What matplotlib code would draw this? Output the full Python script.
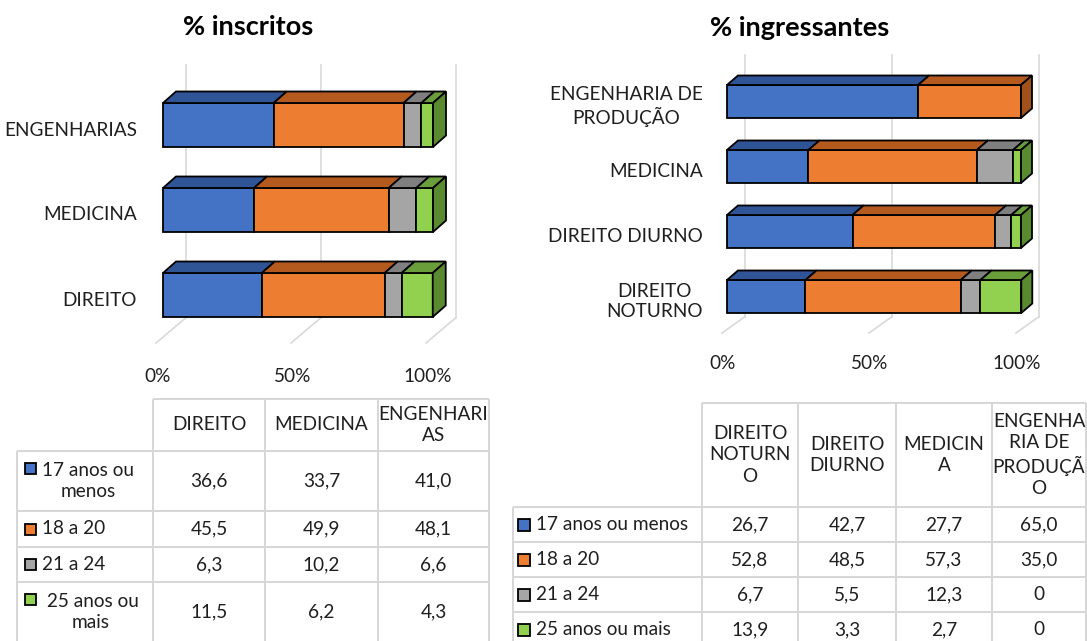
import matplotlib.pyplot as plt
from matplotlib.patches import Polygon, Rectangle
import numpy as np

plt.rcParams['font.family'] = ['Lato', 'DejaVu Sans']

W, H = 1087, 641

# age groups (stack order, left to right)
age_groups = ["17 anos ou menos", "18 a 20", "21 a 24", "25 anos ou mais"]
front_colors = ["#4472C4", "#ED7D31", "#A5A5A5", "#92D050"]
top_colors = ["#2F5597", "#B55A1E", "#7F7F7F", "#6A9E3A"]
side_colors = ["#2A4B85", "#A0511C", "#6E6E6E", "#5A8A30"]

# % inscritos, courses bottom to top
insc_courses = ["DIREITO", "MEDICINA", "ENGENHARIAS"]
insc_17 = [36.6, 33.7, 41.0]
insc_18_20 = [45.5, 49.9, 48.1]
insc_21_24 = [6.3, 10.2, 6.6]
insc_25 = [11.5, 6.2, 4.3]
insc_headers = ["DIREITO", "MEDICINA", "ENGENHARI\nAS"]
insc_row_labels = ["17 anos ou\nmenos", "18 a 20", "21 a 24", " 25 anos ou\nmais"]

# % ingressantes, courses bottom to top
ingr_courses = ["DIREITO\nNOTURNO", "DIREITO DIURNO", "MEDICINA", "ENGENHARIA DE\nPRODUÇÃO"]
ingr_17 = [26.7, 42.7, 27.7, 65.0]
ingr_18_20 = [52.8, 48.5, 57.3, 35.0]
ingr_21_24 = [6.7, 5.5, 12.3, 0]
ingr_25 = [13.9, 3.3, 2.7, 0]
ingr_headers = ["DIREITO\nNOTURN\nO", "DIREITO\nDIURNO", "MEDICIN\nA", "ENGENHA\nRIA DE\nPRODUÇÃ\nO"]
ingr_row_labels = age_groups

FS = 13.7
GRID = "#D9D9D9"
TEXT = "#1F1F1F"


def bar_chart(fig, series, labels, x0, x100, c0, pitch, bar_px, depth,
              grid_off, grid_top, floor_back, floor_front, floor_dx, tick_y, tick_dx,
              label_gap):
    """3D-looking 100% stacked horizontal bars; geometry given in pixels."""
    s = (x100 - x0) / 100.0
    left_px, right_px, top_px, bottom_px = x0 - 160, x100 + 60, 40, tick_y + 20
    ax = fig.add_axes([left_px / W, 1 - bottom_px / H,
                       (right_px - left_px) / W, (bottom_px - top_px) / H])
    ax.set_xlim((left_px - x0) / s, (right_px - x0) / s)
    ax.set_ylim((c0 - bottom_px) / pitch, (c0 - top_px) / pitch)
    ax.axis("off")

    # back wall gridlines and floor lines
    yb = (c0 - floor_back) / pitch
    yt = (c0 - grid_top) / pitch
    yf = (c0 - floor_front) / pitch
    for v in (0, 50, 100):
        gx = v + grid_off / s
        ax.plot([gx, gx], [yb, yt], color=GRID, lw=1.2, zorder=1)
        ax.plot([gx, v + floor_dx / s], [yb, yf], color=GRID, lw=1.2, zorder=1)
        ax.text(v + tick_dx / s, (c0 - tick_y) / pitch, f"{v}%", ha="center",
                va="center", fontsize=FS, color=TEXT)

    n = len(labels)
    y = np.arange(n)
    h = bar_px / pitch
    dx, dy = depth[0] / s, depth[1] / pitch
    left = np.zeros(n)
    last = np.zeros(n, dtype=int)
    for k, vals in enumerate(series):
        vals = np.asarray(vals, dtype=float)
        m = vals > 0
        ax.barh(y[m], vals[m], left=left[m], height=h, color=front_colors[k],
                edgecolor="black", lw=1.3, zorder=3)
        for i in np.where(m)[0]:
            a, b = left[i], left[i] + vals[i]
            top = y[i] + h / 2
            ax.add_patch(Polygon([(a, top), (b, top), (b + dx, top + dy), (a + dx, top + dy)],
                                 closed=True, fc=top_colors[k], ec="black", lw=1.3, zorder=3))
            last[i] = k
        left += vals

    # right side of each bar
    for i in range(n):
        r, lo, hi = left[i], y[i] - h / 2, y[i] + h / 2
        ax.add_patch(Polygon([(r, lo), (r, hi), (r + dx, hi + dy), (r + dx, lo + dy)],
                             closed=True, fc=side_colors[last[i]], ec="black", lw=1.3, zorder=3))

    for i, lab in enumerate(labels):
        ax.text(-label_gap / s, y[i] - 5 / pitch, lab, ha="right", va="center",
                multialignment="center", fontsize=FS, color=TEXT, linespacing=1.25)
    return ax


def fmt(v):
    return "0" if v == 0 else f"{v:.1f}".replace(".", ",")


def draw_table(ax, series, headers, row_labels, col_edges, label_left, row_edges,
               key_x, key_size, text_x):
    kw = dict(color="#D6D6D6", lw=1.4, zorder=1, solid_capstyle="butt")
    ax.plot([col_edges[0], col_edges[-1]], [row_edges[0]] * 2, **kw)
    for r in row_edges[1:]:
        ax.plot([label_left, col_edges[-1]], [r, r], **kw)
    ax.plot([label_left] * 2, [row_edges[1], row_edges[-1]], **kw)
    for c in col_edges:
        ax.plot([c, c], [row_edges[0], row_edges[-1]], **kw)

    centers = [(a + b) / 2 for a, b in zip(col_edges[:-1], col_edges[1:])]
    hy = (row_edges[0] + row_edges[1]) / 2
    for cx, hd in zip(centers, headers):
        ax.text(cx, hy, hd, ha="center", va="center", multialignment="center",
                fontsize=FS, color=TEXT, linespacing=1.3)

    for k, lab in enumerate(row_labels):
        ry = (row_edges[k + 1] + row_edges[k + 2]) / 2
        nl = lab.count("\n") + 1
        first = ry - (nl - 1) / 2 * 26
        ax.add_patch(Rectangle((key_x, first - key_size / 2), key_size, key_size,
                               fc=front_colors[k], ec="black", lw=1.3, zorder=3))
        ax.text(text_x, ry, lab, ha="left", va="center", multialignment="center",
                fontsize=FS, color=TEXT, linespacing=1.3)
        for cx, v in zip(centers, series[k]):
            ax.text(cx, ry, fmt(v), ha="center", va="center", fontsize=FS, color=TEXT)


fig = plt.figure(figsize=(W / 100, H / 100), dpi=100)

bar_chart(fig, [insc_17, insc_18_20, insc_21_24, insc_25], insc_courses,
          x0=163, x100=433, c0=295, pitch=85, bar_px=44, depth=(13, 11.5),
          grid_off=22.5, grid_top=65, floor_back=318, floor_front=343, floor_dx=-7,
          tick_y=376, tick_dx=-5, label_gap=26)

bar_chart(fig, [ingr_17, ingr_18_20, ingr_21_24, ingr_25], ingr_courses,
          x0=727, x100=1021, c0=296.5, pitch=65, bar_px=33, depth=(11, 9.5),
          grid_off=17.5, grid_top=55, floor_back=317, floor_front=333, floor_dx=-5,
          tick_y=363, tick_dx=-4, label_gap=24)

base = fig.add_axes([0, 0, 1, 1])
base.set_xlim(0, W)
base.set_ylim(H, 0)
base.axis("off")

base.text(248, 27, "% inscritos", ha="center", va="center", fontsize=19.5,
          fontweight="bold", color="black")
base.text(800, 28, "% ingressantes", ha="center", va="center", fontsize=19.5,
          fontweight="bold", color="black")

draw_table(base, [insc_17, insc_18_20, insc_21_24, insc_25], insc_headers, insc_row_labels,
           col_edges=[153, 265, 378, 489], label_left=17,
           row_edges=[399, 451, 511, 547, 582, 642], key_x=25, key_size=11, text_x=42)

draw_table(base, [ingr_17, ingr_18_20, ingr_21_24, ingr_25], ingr_headers, ingr_row_labels,
           col_edges=[702, 798, 896, 992, 1086], label_left=513,
           row_edges=[403, 507, 542, 577, 612, 647], key_x=518, key_size=12, text_x=536)

fig.savefig("out.png", dpi=100)
